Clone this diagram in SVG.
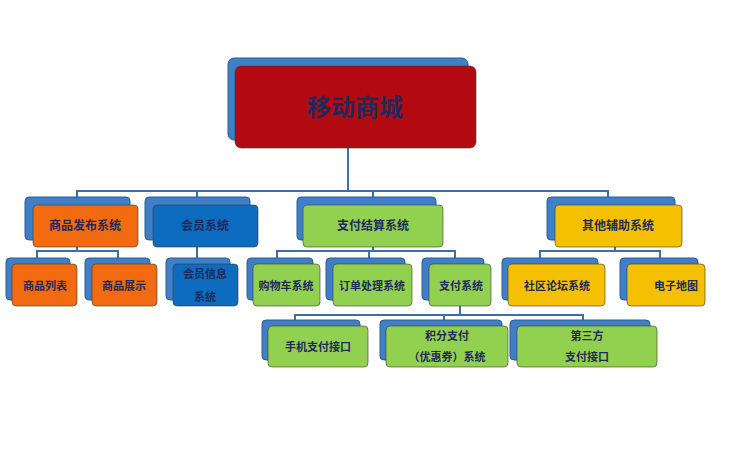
<svg xmlns="http://www.w3.org/2000/svg" width="730" height="463" viewBox="0 0 730 463">
<style>
.bk{fill:#3f7fc8;stroke:#2a5c98;stroke-width:1}
.fr{stroke:#3a3a3a;stroke-width:1;stroke-opacity:.6}
.o{fill:#f26b10}.b{fill:#0d6cc0}.g{fill:#92d050}.y{fill:#f5c000}.r{fill:#b30a12}
text{font-family:"Noto Sans CJK SC","Liberation Sans",sans-serif;font-weight:bold;fill:#1f2a5c;text-anchor:middle;font-size:11px}
.c{fill:none;stroke:#3e6ea8;stroke-width:2}
</style>
<g id="connectors">
<path class="c" d="M348 148V191M77 198V191H608V198M197 191V198M373 191V198M77 247V251M37 258V251H118V258M197 247V258M373 247V251M277 258V251H455V258M369 251V258M460 306V315M295 320V315H583V320M444 315V320M615 247V251M540 258V251H660V258"/>
</g>
<g id="n0"><rect class="bk" x="228" y="58" width="240" height="82" rx="6"/><rect class="fr r" x="235" y="66" width="241" height="82" rx="6"/><text x="355" y="116" style="font-size:24px">移动商城</text></g>
<g id="n1"><rect class="bk" x="25" y="197" width="105" height="43" rx="4"/><rect class="fr o" x="33" y="205" width="105" height="42" rx="4"/><text x="85" y="230" style="font-size:12px">商品发布系统</text></g>
<g id="n2"><rect class="bk" x="145" y="197" width="105" height="43" rx="4"/><rect class="fr b" x="153" y="205" width="105" height="42" rx="4"/><text x="205" y="230" style="font-size:12px">会员系统</text></g>
<g id="n3"><rect class="bk" x="297" y="197" width="139" height="43" rx="4"/><rect class="fr g" x="303" y="205" width="140" height="42" rx="4"/><text x="373" y="230" style="font-size:12px">支付结算系统</text></g>
<g id="n4"><rect class="bk" x="547" y="197" width="128" height="43" rx="4"/><rect class="fr y" x="555" y="205" width="127" height="42" rx="4"/><text x="618" y="230" style="font-size:12px">其他辅助系统</text></g>
<g id="n5"><rect class="bk" x="6" y="258" width="64" height="42" rx="4"/><rect class="fr o" x="12" y="264" width="65" height="42" rx="4"/><text x="45" y="290">商品列表</text></g>
<g id="n6"><rect class="bk" x="85" y="258" width="65" height="42" rx="4"/><rect class="fr o" x="92" y="264" width="65" height="42" rx="4"/><text x="124" y="290">商品展示</text></g>
<g id="n7"><rect class="bk" x="166" y="258" width="64" height="42" rx="4"/><rect class="fr b" x="173" y="264" width="65" height="42" rx="4"/><text x="205" y="278">会员信息</text><text x="205" y="301">系统</text></g>
<g id="n8"><rect class="bk" x="247" y="258" width="66" height="42" rx="4"/><rect class="fr g" x="253" y="264" width="67" height="42" rx="4"/><text x="286" y="290">购物车系统</text></g>
<g id="n9"><rect class="bk" x="326" y="258" width="79" height="42" rx="4"/><rect class="fr g" x="333" y="264" width="79" height="42" rx="4"/><text x="372" y="290">订单处理系统</text></g>
<g id="n10"><rect class="bk" x="422" y="258" width="62" height="42" rx="4"/><rect class="fr g" x="429" y="264" width="62" height="42" rx="4"/><text x="461" y="290">支付系统</text></g>
<g id="n11"><rect class="bk" x="502" y="258" width="96" height="42" rx="4"/><rect class="fr y" x="508" y="264" width="97" height="42" rx="4"/><text x="557" y="290">社区论坛系统</text></g>
<g id="n12"><rect class="bk" x="620" y="258" width="78" height="42" rx="4"/><rect class="fr y" x="627" y="264" width="78" height="42" rx="4"/><text x="676" y="290">电子地图</text></g>
<g id="n13"><rect class="bk" x="262" y="320" width="98" height="40" rx="4"/><rect class="fr g" x="268" y="326" width="100" height="41" rx="4"/><text x="318" y="351">手机支付接口</text></g>
<g id="n14"><rect class="bk" x="380" y="320" width="122" height="40" rx="4"/><rect class="fr g" x="386" y="326" width="122" height="41" rx="4"/><text x="447" y="340">积分支付</text><text x="447" y="361">（优惠券）系统</text></g>
<g id="n15"><rect class="bk" x="510" y="320" width="140" height="40" rx="4"/><rect class="fr g" x="517" y="326" width="140" height="41" rx="4"/><text x="587" y="340">第三方</text><text x="587" y="361">支付接口</text></g>
</svg>
